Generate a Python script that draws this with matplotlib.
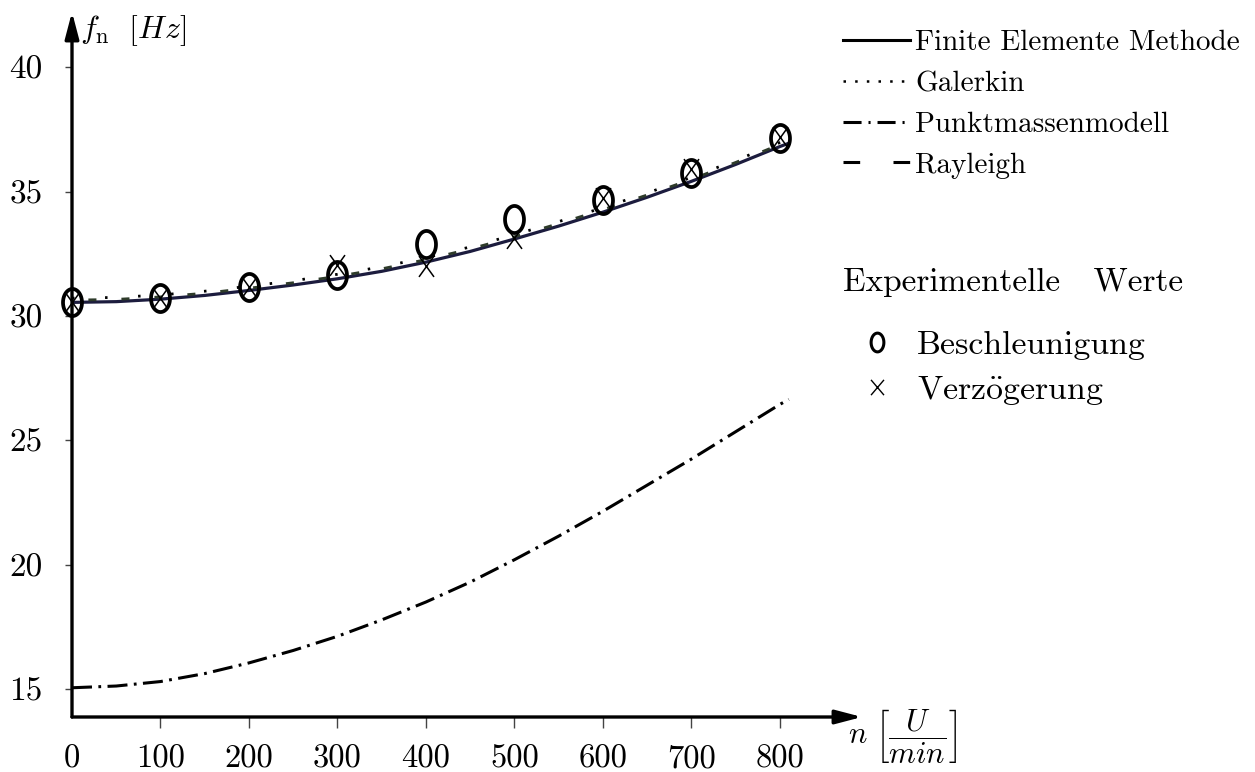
import numpy as np
import matplotlib
matplotlib.use("Agg")
import matplotlib.pyplot as plt
from matplotlib.path import Path
from matplotlib.lines import Line2D

plt.rcParams['font.family'] = ['cmr10', 'DejaVu Serif']
plt.rcParams['mathtext.fontset'] = 'cm'
plt.rcParams['axes.formatter.use_mathtext'] = True
plt.rcParams['lines.scale_dashes'] = False

# Drehzahl n [U/min] fuer die gerechneten Kurven
n_curve = [0, 50, 100, 150, 200, 250, 300, 350, 400, 450, 500, 550, 600, 650, 700, 750, 800, 810]
fem = [30.55, 30.58, 30.68, 30.83, 31.03, 31.25, 31.50, 31.80, 32.17, 32.60, 33.10, 33.62,
       34.18, 34.78, 35.42, 36.10, 36.82, 36.95]
galerkin = [30.72, 30.75, 30.85, 31.00, 31.20, 31.42, 31.68, 31.98, 32.35, 32.78, 33.27, 33.80,
            34.36, 34.95, 35.58, 36.26, 36.98, 37.10]
rayleigh = [30.64, 30.67, 30.77, 30.92, 31.12, 31.34, 31.60, 31.90, 32.27, 32.70, 33.19, 33.72,
            34.28, 34.87, 35.50, 36.18, 36.90, 37.03]
punktmasse = [15.05, 15.12, 15.30, 15.62, 16.05, 16.55, 17.12, 17.78, 18.50, 19.30, 20.20, 21.15,
              22.15, 23.20, 24.25, 25.35, 26.45, 26.65]

# Messwerte
n_mess = [0, 100, 200, 300, 400, 500, 600, 700, 800]
beschleunigung = [30.55, 30.72, 31.15, 31.65, 32.90, 33.90, 34.65, 35.75, 37.15]
verzoegerung = [30.55, 30.72, 31.15, 32.05, 32.00, 33.12, 34.75, 35.90, 37.20]

x_ticks = [0, 100, 200, 300, 400, 500, 600, 700, 800]
y_ticks = [15, 20, 25, 30, 35, 40]

W, H = 1255, 772
fig = plt.figure(figsize=(W / 100, H / 100), dpi=100)
ax = fig.add_axes([72 / W, 55 / H, 790 / W, 705 / H])
ax.set_xlim(0, 892.7)
ax.set_ylim(13.874, 42.23)
for s in ax.spines.values():
    s.set_visible(False)

# Achsen mit Pfeilen
arrow = dict(arrowstyle='-|>,head_length=1.6,head_width=0.42', lw=2.4, color='k',
             shrinkA=0, shrinkB=0, mutation_scale=10)
ax.annotate('', xy=(1, 0), xytext=(0, 0), xycoords='axes fraction', arrowprops=arrow)
ax.annotate('', xy=(0, 1), xytext=(0, 0), xycoords='axes fraction', arrowprops=arrow)

ax.set_xticks(x_ticks, [str(v) for v in x_ticks])
ax.set_yticks(y_ticks, [str(v) for v in y_ticks])
ax.tick_params(axis='x', direction='out', length=8, width=1.0, color='#444444', pad=12, labelsize=23.5)
ax.tick_params(axis='y', direction='out', length=5, width=1.0, color='#444444', pad=16, labelsize=24)
ax.xaxis.get_major_ticks()[0].tick1line.set_visible(False)

# Kurven
ax.plot(n_curve, punktmasse, color='k', lw=2.2, linestyle=(0, (14.4, 4.6, 2.0, 4.6)))
ax.plot(n_curve, fem, color='#1c1c3e', lw=2.3)
ax.plot(n_curve, rayleigh, color='#2e3b2a', lw=2.0, linestyle=(12, (5.8, 18.0)))
ax.plot(n_curve, galerkin, color='k', lw=2.0, linestyle=(0, (1.8, 22.0)))

# Messpunkte
t = np.linspace(0, 2 * np.pi, 73)
ellipse = Path(np.column_stack([0.7 * np.sin(t), np.cos(t)]), closed=True)
cross = Path([(-0.72, -1), (0.72, 1), (-0.72, 1), (0.72, -1)],
             [Path.MOVETO, Path.LINETO, Path.MOVETO, Path.LINETO])
ax.plot(n_mess, beschleunigung, linestyle='none', marker=ellipse, markersize=19.5,
        markerfacecolor='none', markeredgecolor='k', markeredgewidth=2.7, clip_on=False)
ax.plot(n_mess, verzoegerung, linestyle='none', marker=cross, markersize=15,
        markeredgecolor='k', markeredgewidth=1.1, clip_on=False)

# Achsbeschriftungen
fig.text(80 / W, 1 - 31 / H, r'$f_{\mathrm{n}}\ \ [Hz]$', fontsize=23, ha='left', va='center')
fig.text(848 / W, 1 - 736 / H, r'$n\ \left[\dfrac{U}{min}\right]$', fontsize=22, ha='left', va='center')

# Legende Rechenverfahren
handles1 = [
    Line2D([], [], color='k', lw=2.2),
    Line2D([], [], color='k', lw=1.8, linestyle=(0, (1.8, 6.6))),
    Line2D([], [], color='k', lw=2.2, linestyle=(0, (13.0, 5.0, 1.5, 5.0))),
    Line2D([], [], color='k', lw=2.2, linestyle=(0, (12.0, 24.0))),
]
labels1 = ['Finite Elemente Methode', 'Galerkin', 'Punktmassenmodell', 'Rayleigh']
leg1 = fig.legend(handles1, labels1, loc='upper left', bbox_to_anchor=(843 / W, 1 - 30 / H),
                  bbox_transform=fig.transFigure, frameon=False, fontsize=21,
                  handlelength=2.3, handletextpad=0.17, labelspacing=0.49,
                  borderpad=0, borderaxespad=0)

# Legende Messwerte
fig.text(843 / W, 1 - 282 / H, 'Experimentelle   Werte', fontsize=24, ha='left', va='center')
ring = Path(np.column_stack([0.68 * np.sin(t), np.cos(t)]), closed=True)
xsmall = Path([(-0.85, -1), (0.85, 1), (-0.85, 1), (0.85, -1)],
              [Path.MOVETO, Path.LINETO, Path.MOVETO, Path.LINETO])
handles2 = [
    Line2D([], [], linestyle='none', marker=ring, markersize=13.5, markerfacecolor='none',
           markeredgecolor='k', markeredgewidth=2.2),
    Line2D([], [], linestyle='none', marker=xsmall, markersize=11, markeredgecolor='k',
           markeredgewidth=1.0),
]
leg2 = fig.legend(handles2, ['Beschleunigung', r'Verz$\ddot{\mathrm{o}}$gerung'], loc='upper left',
                  bbox_to_anchor=(860 / W, 1 - 330 / H), bbox_transform=fig.transFigure,
                  frameon=False, fontsize=24.4, handlelength=1.0, handletextpad=0.68,
                  labelspacing=0.41, borderpad=0, borderaxespad=0, numpoints=1)

fig.savefig('out.png', dpi=100)
